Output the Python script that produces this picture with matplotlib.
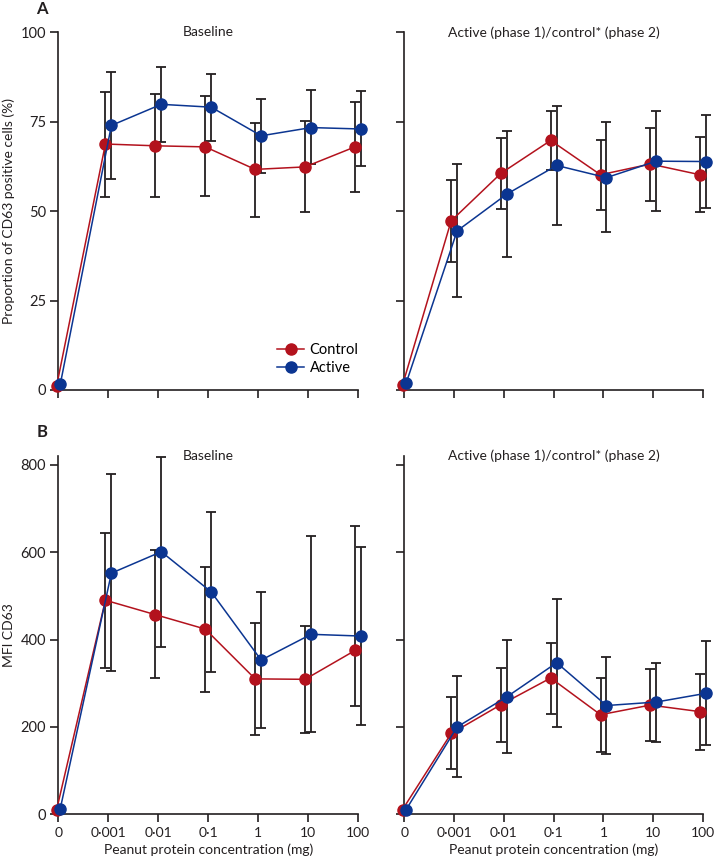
import matplotlib.pyplot as plt
import numpy as np

plt.rcParams['font.family'] = ['Lato', 'DejaVu Sans']

# Peanut protein concentrations (mg)
concentrations = ['0', '0·001', '0·01', '0·1', '1', '10', '100']

# Panel A: proportion of CD63 positive cells (%)
a_base_ctrl = [1.2, 68.8, 68.3, 68.0, 61.7, 62.4, 68.0]
a_base_ctrl_hi = [1.2, 83.4, 82.7, 82.2, 74.7, 75.1, 80.5]
a_base_ctrl_lo = [1.2, 54.1, 54.1, 54.2, 48.5, 49.9, 55.5]
a_base_act = [1.6, 74.0, 79.9, 79.1, 71.1, 73.4, 73.0]
a_base_act_hi = [1.6, 89.0, 90.3, 88.5, 81.3, 84.0, 83.5]
a_base_act_lo = [1.6, 59.0, 69.4, 69.7, 60.8, 63.1, 62.6]

a_ph_ctrl = [1.4, 47.3, 60.6, 69.8, 60.2, 63.2, 60.2]
a_ph_ctrl_hi = [1.4, 58.7, 70.6, 77.9, 70.0, 73.3, 70.8]
a_ph_ctrl_lo = [1.4, 35.7, 50.5, 61.5, 50.3, 53.0, 49.8]
a_ph_act = [1.9, 44.5, 54.8, 62.8, 59.4, 64.0, 63.9]
a_ph_act_hi = [1.9, 63.1, 72.4, 79.5, 75.0, 78.1, 77.0]
a_ph_act_lo = [1.9, 26.1, 37.1, 46.2, 44.3, 50.1, 50.8]

# Panel B: MFI CD63
b_base_ctrl = [11, 490, 457, 424, 310, 309, 375]
b_base_ctrl_hi = [11, 645, 604, 567, 438, 431, 661]
b_base_ctrl_lo = [11, 334, 312, 280, 181, 185, 248]
b_base_act = [13, 552, 601, 509, 353, 412, 408]
b_base_act_hi = [13, 779, 818, 693, 508, 638, 611]
b_base_act_lo = [13, 328, 384, 325, 197, 188, 205]

b_ph_ctrl = [11, 185, 251, 312, 228, 250, 235]
b_ph_ctrl_hi = [11, 269, 336, 391, 312, 332, 322]
b_ph_ctrl_lo = [11, 104, 165, 230, 143, 168, 148]
b_ph_act = [11, 200, 269, 347, 249, 257, 277]
b_ph_act_hi = [11, 316, 399, 493, 361, 346, 396]
b_ph_act_lo = [11, 85, 141, 201, 137, 166, 158]

red = '#b3121d'
blue = '#0b3591'
ink = '#231f20'
x = np.arange(len(concentrations))
dodge = 0.06

fig = plt.figure(figsize=(7.14, 8.59), dpi=100)
ax_a1 = fig.add_axes([0.0819, 0.546, 0.4195, 0.4162])
ax_a2 = fig.add_axes([0.5663, 0.546, 0.4184, 0.4162])
ax_b1 = fig.add_axes([0.0819, 0.052, 0.4195, 0.4171])
ax_b2 = fig.add_axes([0.5663, 0.052, 0.4184, 0.4171])


def draw(ax, ctrl, ctrl_lo, ctrl_hi, act, act_lo, act_hi):
    for vals, lo, hi, col, off, lab in [(ctrl, ctrl_lo, ctrl_hi, red, -dodge, 'Control'),
                                        (act, act_lo, act_hi, blue, dodge, 'Active')]:
        vals = np.array(vals, dtype=float)
        err = [vals - np.array(lo), np.array(hi) - vals]
        xs = x + off
        xs[0] = x[0] + off * 0.6
        ax.errorbar(xs, vals, yerr=err, fmt='none', ecolor=ink, elinewidth=1.3,
                    capsize=3.5, capthick=1.3, clip_on=False, zorder=2)
        ax.plot(xs, vals, '-o', color=col, lw=1.1, ms=8, clip_on=False,
                zorder=3, label=lab)


draw(ax_a1, a_base_ctrl, a_base_ctrl_lo, a_base_ctrl_hi, a_base_act, a_base_act_lo, a_base_act_hi)
draw(ax_a2, a_ph_ctrl, a_ph_ctrl_lo, a_ph_ctrl_hi, a_ph_act, a_ph_act_lo, a_ph_act_hi)
draw(ax_b1, b_base_ctrl, b_base_ctrl_lo, b_base_ctrl_hi, b_base_act, b_base_act_lo, b_base_act_hi)
draw(ax_b2, b_ph_ctrl, b_ph_ctrl_lo, b_ph_ctrl_hi, b_ph_act, b_ph_act_lo, b_ph_act_hi)

for ax in [ax_a1, ax_a2, ax_b1, ax_b2]:
    ax.set_xlim(0, 6)
    ax.set_xticks(x)
    for s in ['top', 'right']:
        ax.spines[s].set_visible(False)
    for s in ['left', 'bottom']:
        ax.spines[s].set_color(ink)
        ax.spines[s].set_linewidth(1.2)
    ax.tick_params(direction='out', length=6, width=1.2, color=ink,
                   labelsize=10.5, labelcolor=ink, pad=3)
    ax.tick_params(axis='x', labelsize=10)

for ax in [ax_a1, ax_a2]:
    ax.set_ylim(0, 100)
    ax.set_yticks([0, 25, 50, 75, 100])
    ax.set_xticklabels([])
for ax in [ax_b1, ax_b2]:
    ax.set_ylim(0, 820)
    ax.set_yticks([0, 200, 400, 600, 800])
    ax.set_xticklabels(concentrations)
    ax.set_xlabel('Peanut protein concentration (mg)', fontsize=10, color=ink, labelpad=3)
ax_a2.set_yticklabels([])
ax_b2.set_yticklabels([])

ax_a1.set_ylabel('Proportion of CD63 positive cells (%)', fontsize=10, color=ink, labelpad=4)
ax_b1.set_ylabel('MFI CD63', fontsize=10, color=ink, labelpad=4)

for ax in [ax_a1, ax_b1]:
    ax.text(0.5, 1.0, 'Baseline', transform=ax.transAxes, ha='center', va='center',
            fontsize=10, color=ink)
for ax in [ax_a2, ax_b2]:
    ax.text(0.5, 1.0, 'Active (phase 1)/control* (phase 2)', transform=ax.transAxes,
            ha='center', va='center', fontsize=10, color=ink)

fig.text(42 / 714, 1 - 9 / 859, 'A', fontsize=12, fontweight='bold', ha='center', va='center', color=ink)
fig.text(42 / 714, 1 - 432 / 859, 'B', fontsize=12, fontweight='bold', ha='center', va='center', color=ink)

ax_a1.legend(loc='lower right', bbox_to_anchor=(1.045, 0.005), frameon=False, fontsize=10.5,
             handlelength=1.8, handletextpad=0.4, labelspacing=0.25)

fig.savefig('out.png', dpi=100)
